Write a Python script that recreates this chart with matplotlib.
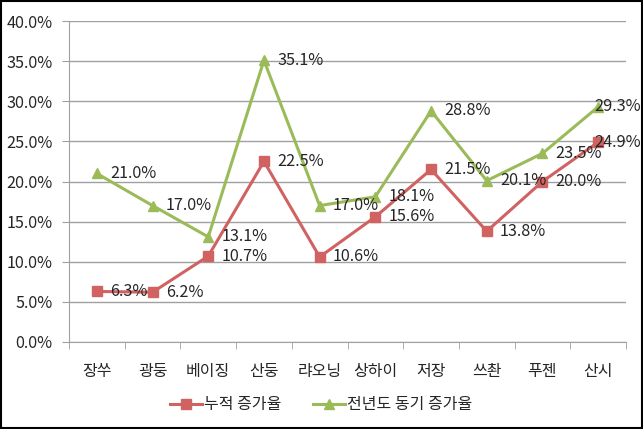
import matplotlib
matplotlib.use("Agg")
import matplotlib.pyplot as plt
from matplotlib.patches import Rectangle

plt.rcParams['font.family'] = ['Noto Sans CJK KR', 'DejaVu Sans']

categories = ['장쑤', '광둥', '베이징', '산둥', '랴오닝', '상하이', '저장', '쓰촨', '푸젠', '산시']
cumulative = [6.3, 6.2, 10.7, 22.5, 10.6, 15.6, 21.5, 13.8, 20.0, 24.9]
yoy = [21.0, 17.0, 13.1, 35.1, 17.0, 18.1, 28.8, 20.1, 23.5, 29.3]
series_names = ['누적 증가율', '전년도 동기 증가율']
yticks = [0, 5, 10, 15, 20, 25, 30, 35, 40]

red = '#D06262'
green = '#9BBB59'
txt = '#262626'
numfs = 11.7
korfs = 11.5

fig = plt.figure(figsize=(6.43, 4.29), dpi=100)
ax = fig.add_axes([69/643, 1-342/429, 557/643, 321/429])

x = list(range(len(categories)))
l1, = ax.plot(x, cumulative, color=red, lw=2.2, marker='s', ms=6.5, label=series_names[0], zorder=3)
l2, = ax.plot(x, yoy, color=green, lw=2.2, marker='^', ms=7, label=series_names[1], zorder=3)

for vals in (cumulative, yoy):
    for i, v in enumerate(vals):
        dx = 9.5 if i < len(vals) - 1 else -3
        ax.annotate(f'{v:.1f}%', (i, v), xytext=(dx, 0), textcoords='offset points',
                    ha='left', va='center', fontsize=numfs, color=txt, zorder=4)

ax.set_xlim(-0.5, len(categories) - 0.5)
ax.set_ylim(0, 40)
ax.set_yticks(yticks)
ax.set_yticklabels([f'{t:.1f}%' for t in yticks], fontsize=numfs, color=txt)
ax.yaxis.grid(True, color='#A0A0A0', lw=1)
ax.set_axisbelow(True)

ax.set_xticks(x)
ax.set_xticklabels(categories, fontsize=korfs, color=txt)
ax.tick_params(axis='x', length=0, pad=15)
ax.set_xticks([i - 0.5 for i in range(len(categories) + 1)], minor=True)
ax.tick_params(axis='x', which='minor', length=5, color='#A0A0A0')
ax.tick_params(axis='y', length=5, color='#A0A0A0', pad=7)

for s in ['top', 'right']:
    ax.spines[s].set_visible(False)
for s in ['left', 'bottom']:
    ax.spines[s].set_color('#A0A0A0')

fig.legend(handles=[l1, l2], loc='center', bbox_to_anchor=(321/643, 1-405/429), ncol=2,
           frameon=False, fontsize=korfs, handlelength=2.0, columnspacing=2.0, handletextpad=0.1,
           labelcolor=txt)

fig.patches.append(Rectangle((0.002, 0.002), 0.996, 0.995, transform=fig.transFigure,
                             fill=False, edgecolor='black', lw=1.5))

fig.savefig('out.png', dpi=100)
